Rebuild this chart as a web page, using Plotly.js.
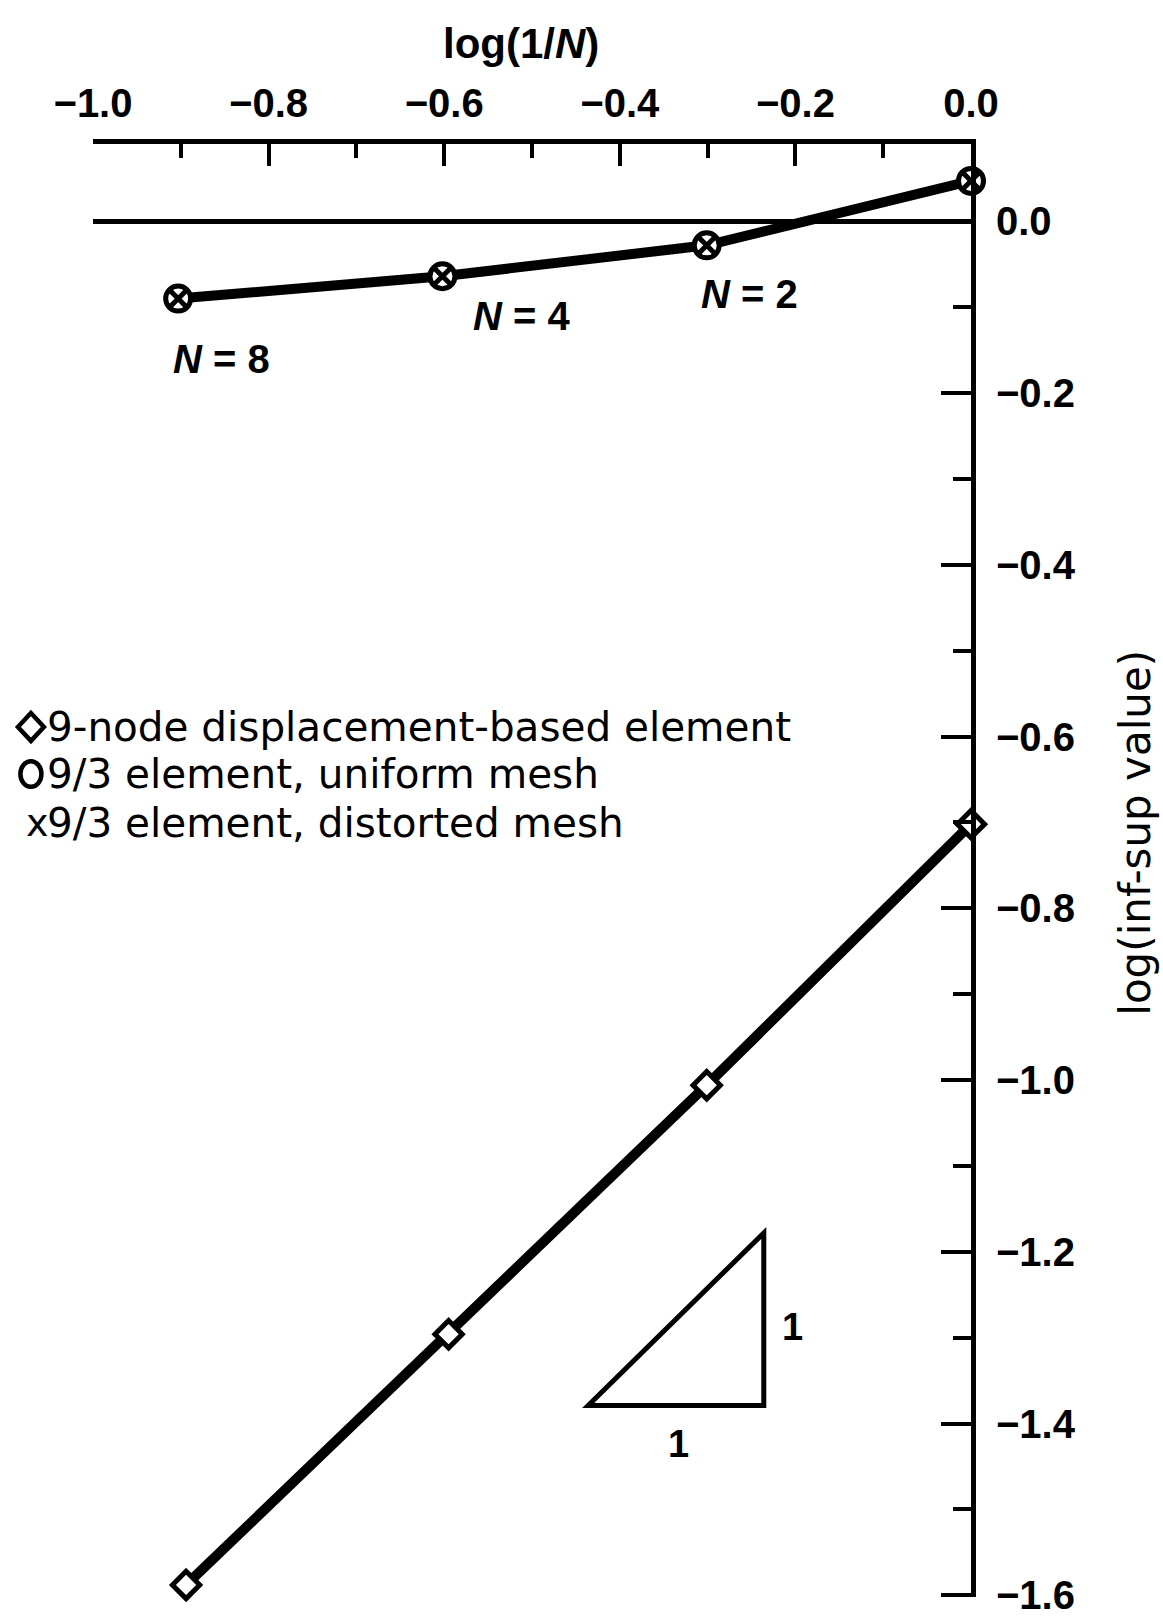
<!DOCTYPE html>
<html>
<head>
<meta charset="utf-8">
<script src="https://cdn.plot.ly/plotly-3.0.1.min.js"></script>
<style>
  html, body { margin: 0; padding: 0; background: #ffffff; }
  #chart { width: 1163px; height: 1618px; }
</style>
</head>
<body>
<div id="chart"></div>
<script>
// ---- data ----
// 9/3 element (uniform and distorted mesh coincide)
const logInvN_93 = [-0.903, -0.602, -0.301, 0.0];
const logInfSup_93 = [-0.090, -0.064, -0.028, 0.047];
// 9-node displacement-based element
const logInvN_9node = [-0.894, -0.595, -0.301, 0.0];
const logInfSup_9node = [-1.588, -1.296, -1.006, -0.702];
// labels
const meshLabels = ['<i>N</i> = 8', '<i>N</i> = 4', '<i>N</i> = 2'];
const legendLabels = [
  '9-node displacement-based element',
  '9/3 element, uniform mesh',
  '9/3 element, distorted mesh'
];
const xTitle = 'log(1/<i>N</i>)';
const yTitle = 'log(inf-sup value)';
const slopeLabels = ['1', '1'];

const black = '#000000';
const tickFont = {family: 'Liberation Sans, Arial, sans-serif', size: 40, color: black, weight: 'bold'};
const textFont = {family: 'DejaVu Sans, sans-serif', size: 40.5, color: black};

const traces = [
  {
    x: logInvN_9node, y: logInfSup_9node,
    type: 'scatter', mode: 'lines+markers',
    line: {color: black, width: 10},
    marker: {symbol: 'diamond', size: 21, color: '#ffffff', line: {color: black, width: 5}},
    cliponaxis: false, showlegend: false, hoverinfo: 'skip'
  },
  {
    x: logInvN_93, y: logInfSup_93,
    type: 'scatter', mode: 'lines+markers',
    line: {color: black, width: 10},
    marker: {symbol: 'circle-x', size: 25, color: '#ffffff', line: {color: black, width: 5}},
    cliponaxis: false, showlegend: false, hoverinfo: 'skip'
  }
];

// plot area in pixels: top 144, bottom 1597 (height 1453)
const annotations = [];
// N labels
const nPos = [[-0.854, -0.160], [-0.512, -0.110], [-0.252, -0.085]];
meshLabels.forEach((t, i) => {
  annotations.push({x: nPos[i][0], y: nPos[i][1], xref: 'x', yref: 'y', text: t,
    showarrow: false, xanchor: 'center', yanchor: 'middle',
    font: {family: 'Liberation Sans, Arial, sans-serif', size: 40, color: black, weight: 'bold'}});
});
// slope triangle labels
annotations.push({x: -0.333, y: -1.424, xref: 'x', yref: 'y', text: slopeLabels[0], showarrow: false,
  font: {family: 'Liberation Sans, Arial, sans-serif', size: 38, color: black, weight: 'bold'}});
annotations.push({x: -0.203, y: -1.288, xref: 'x', yref: 'y', text: slopeLabels[1], showarrow: false,
  font: {family: 'Liberation Sans, Arial, sans-serif', size: 38, color: black, weight: 'bold'}});
// legend (text block at the left)
const legY = [0.5988, 0.5664, 0.5327];
annotations.push({x: -0.063, y: legY[2], xref: 'paper', yref: 'paper', text: 'x',
  showarrow: false, xanchor: 'center', yanchor: 'middle',
  font: {family: 'DejaVu Sans, sans-serif', size: 38, color: black}});
legendLabels.forEach((t, i) => {
  annotations.push({x: -0.0547, y: legY[i], xref: 'paper', yref: 'paper', text: t,
    showarrow: false, xanchor: 'left', yanchor: 'middle', font: textFont});
});
// axis titles
annotations.push({x: 0.488, y: 1.0695, xref: 'paper', yref: 'paper', text: xTitle, showarrow: false,
  xanchor: 'center', yanchor: 'middle',
  font: {family: 'Liberation Sans, Arial, sans-serif', size: 42, color: black, weight: 'bold'}});
annotations.push({x: 1.188, y: 0.526, xref: 'paper', yref: 'paper', text: yTitle, showarrow: false,
  xanchor: 'center', yanchor: 'middle', textangle: -90, font: {family: 'DejaVu Sans, sans-serif', size: 42, color: black}});

// legend symbol shapes (paper coordinates)
const dcx = -0.0707, dcy = legY[0], dhw = 0.0148, dhh = 0.0096;
const layout = {
  width: 1163, height: 1618,
  margin: {l: 93, r: 192, t: 144, b: 21, pad: 0},
  paper_bgcolor: '#ffffff', plot_bgcolor: '#ffffff',
  showlegend: false,
  xaxis: {
    range: [-1.0, 0.0], side: 'top',
    showline: true, linewidth: 5, linecolor: black,
    ticks: 'inside', ticklen: 22, tickwidth: 4, tickcolor: black,
    tick0: 0, dtick: 0.2, tickformat: '.1f',
    minor: {dtick: 0.1, tick0: 0, ticks: 'inside', ticklen: 14, tickwidth: 4, tickcolor: black},
    showgrid: false, zeroline: false,
    tickfont: tickFont, ticklabelstandoff: 6, ticklabeloverflow: 'allow'
  },
  yaxis: {
    range: [-1.602, 0.09], side: 'right',
    showline: true, linewidth: 5, linecolor: black,
    ticks: 'inside', ticklen: 30, tickwidth: 4, tickcolor: black,
    tick0: 0, dtick: 0.2, tickformat: '.1f',
    minor: {dtick: 0.1, tick0: 0, ticks: 'inside', ticklen: 18, tickwidth: 4, tickcolor: black},
    showgrid: false, zeroline: true, zerolinewidth: 5, zerolinecolor: black,
    tickfont: tickFont, ticklabelstandoff: 12, ticklabeloverflow: 'allow'
  },
  shapes: [
    {type: 'path', xref: 'x', yref: 'y',
     path: 'M -0.436,-1.379 L -0.236,-1.379 L -0.236,-1.178 Z',
     line: {color: black, width: 5}, fillcolor: 'rgba(0,0,0,0)'},
    {type: 'path', xref: 'paper', yref: 'paper',
     path: `M ${dcx - dhw},${dcy} L ${dcx},${dcy + dhh} L ${dcx + dhw},${dcy} L ${dcx},${dcy - dhh} Z`,
     line: {color: black, width: 4.5}, fillcolor: 'rgba(0,0,0,0)'},
    {type: 'circle', xref: 'paper', yref: 'paper',
     x0: -0.0827, x1: -0.0587, y0: legY[1] - 0.0088, y1: legY[1] + 0.0088,
     line: {color: black, width: 4.5}, fillcolor: 'rgba(0,0,0,0)'}
  ],
  annotations: annotations
};

Plotly.newPlot('chart', traces, layout, {staticPlot: true, displayModeBar: false});
</script>
</body>
</html>
